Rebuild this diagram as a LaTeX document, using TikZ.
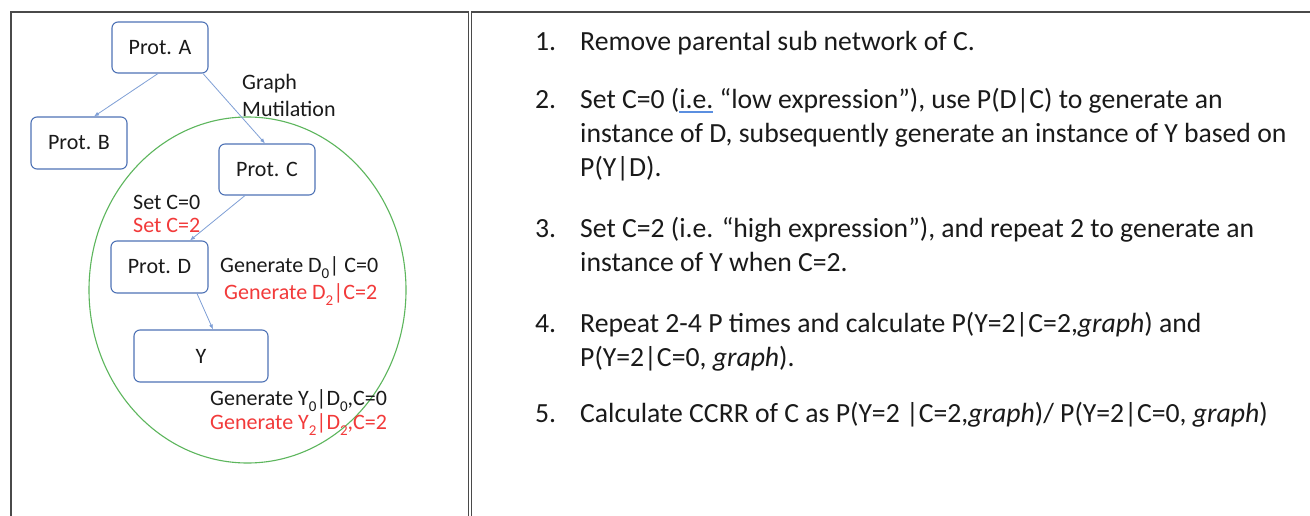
\documentclass[tikz,border=0pt]{standalone}
\usepackage{fontspec}
\setmainfont{Carlito}
\usetikzlibrary{arrows.meta,shapes.geometric}
\definecolor{nodeblue}{HTML}{4F73B6}
\definecolor{arrblue}{HTML}{7F9FD6}
\definecolor{ellgreen}{HTML}{5DB65D}
\definecolor{txtred}{HTML}{F23A3A}
\definecolor{framegray}{HTML}{4A4A4A}
\definecolor{txtdark}{HTML}{1A1A1A}
\definecolor{spellblue}{HTML}{5B8FE0}
\newcommand{\spellul}[1]{\setbox0\hbox{#1}\rlap{\color{spellblue}\raisebox{-4pt}{\rule{\wd0}{1.6pt}}}\box0\relax}
\newcommand{\sbs}[1]{\raisebox{-0.28em}{\fontsize{15}{15}\selectfont #1}}
\begin{document}
\begin{tikzpicture}[x=1pt,y=-1pt,
  protbox/.style={draw=nodeblue, line width=1.1pt, rounded corners=6pt,
    font=\fontsize{22}{26}\selectfont, text=txtdark, inner sep=0pt},
  lefttxt/.style={anchor=base west, inner sep=0pt, font=\fontsize{22}{26}\selectfont, text=txtdark},
  redtxt/.style={lefttxt, text=txtred},
  righttxt/.style={anchor=base west, inner sep=0pt, font=\fontsize{27.7}{34}\selectfont, text=txtdark},
  link/.style={draw=arrblue, line width=0.8pt, -{Latex[length=5pt,width=4pt]}},
  panel/.style={draw=framegray, line width=1.8pt}]
\useasboundingbox (0,0) rectangle (1310,516);
\fill[white] (0,0) rectangle (1310,516);
% panels
\draw[panel] (11,530) -- (11,12) -- (468.5,12) -- (468.5,530);
\draw[panel] (471.5,530) -- (471.5,12) -- (1330,12);
% ellipse
\node[draw=ellgreen, line width=1.1pt, ellipse, minimum width=317pt, minimum height=346pt, inner sep=0pt] (ell) at (247.5,290) {};
% nodes
\node[protbox, minimum width=96pt, minimum height=51pt] (A) at (160,47.5) {Prot. A};
\node[protbox, minimum width=96pt, minimum height=52pt] (B) at (79,143) {Prot. B};
\node[protbox, minimum width=96pt, minimum height=51pt] (C) at (267,169.5) {Prot. C};
\node[protbox, minimum width=97pt, minimum height=52pt] (D) at (159.5,267) {Prot. D};
\node[protbox, minimum width=134pt, minimum height=52pt] (Y) at (201,356) {Y};
% connectors
\draw[link] ([xshift=-2pt]A.south) -- ([xshift=15pt]B.north);
\draw[link] ([xshift=43pt]A.south) -- ([xshift=-2pt]C.north);
\draw[link] ([xshift=-22pt]C.south) -- ([xshift=30.5pt]D.north);
\draw[link] ([xshift=37.5pt]D.south) -- ([xshift=12pt]Y.north);
% labels left
\node[lefttxt] (gm1) at (242,90) {Graph};
\node[lefttxt] (gm2) at (242,117) {Mutilation};
\node[lefttxt] (sc0) at (133,209) {Set C=0};
\node[redtxt] (sc2) at (133,233) {Set C=2};
\node[lefttxt] (gd0) at (220,272) {Generate D\sbs{0}| C=0};
\node[redtxt] (gd2) at (224,299) {Generate D\sbs{2}|C=2};
\node[lefttxt] (gy0) at (210,405) {Generate Y\sbs{0}|D\sbs{0},C=0};
\node[redtxt] (gy2) at (210,429) {Generate Y\sbs{2}|D\sbs{2},C=2};
% list right
\node[righttxt] (n1) at (535,51) {1.};
\node[righttxt] (t1) at (580,51) {Remove parental sub network of C.};
\node[righttxt] (n2) at (535,109) {2.};
\node[righttxt] (t2a) at (580,109) {Set C=0 (\spellul{i.e.} “low expression”), use P(D|C) to generate an};
\node[righttxt] (t2b) at (580,143) {instance of D, subsequently generate an instance of Y based on};
\node[righttxt] (t2c) at (580,177) {P(Y|D).};
\node[righttxt] (n3) at (535,237) {3.};
\node[righttxt] (t3a) at (580,237) {Set C=2 (i.e. “high expression”), and repeat 2 to generate an};
\node[righttxt] (t3b) at (580,271) {instance of Y when C=2.};
\node[righttxt] (n4) at (535,332) {4.};
\node[righttxt] (t4a) at (580,332) {Repeat 2-4 P times and calculate P(Y=2|C=2,\textit{graph}) and};
\node[righttxt] (t4b) at (580,366) {P(Y=2|C=0, \textit{graph}).};
\node[righttxt] (n5) at (535,422) {5.};
\node[righttxt] (t5) at (580,422) {Calculate CCRR of C as P(Y=2 |C=2,\textit{graph})/ P(Y=2|C=0, \textit{graph})};
\end{tikzpicture}
\end{document}
